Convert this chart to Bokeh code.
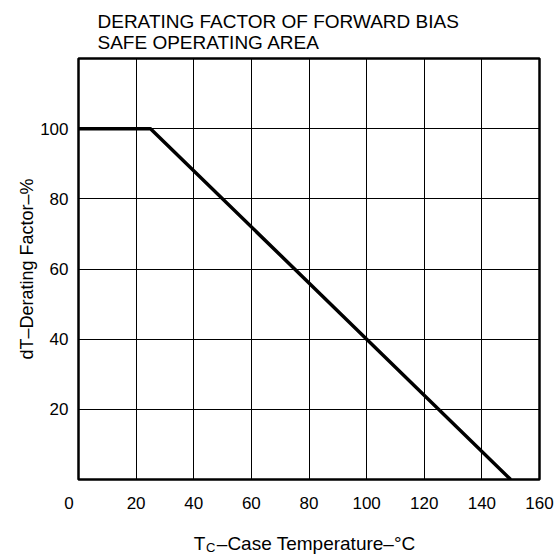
from bokeh.plotting import figure
from bokeh.models import Range1d, FixedTicker, LinearAxis
from bokeh.embed import file_html
from bokeh.resources import INLINE

# ---- data ----
case_temperature = [0, 25, 150]
derating_factor = [100, 100, 0]
x_tick_values = [0, 20, 40, 60, 80, 100, 120, 140, 160]
y_tick_values = [20, 40, 60, 80, 100]
x_grid_values = [0, 20, 40, 60, 80, 100, 120, 140, 160]
y_grid_values = [0, 20, 40, 60, 80, 100, 120]
title_text = "DERATING FACTOR OF FORWARD BIAS\nSAFE OPERATING AREA"
y_label_text = "dT\u2013Derating Factor\u2013%"
x_label_main = "T"
x_label_sub = "C"
x_label_rest = "\u2013Case Temperature\u2013\u00b0C"

FONT = "Liberation Sans"

p = figure(frame_width=461, frame_height=421,
           x_range=Range1d(0, 160), y_range=Range1d(0, 120),
           output_backend="svg", toolbar_location=None,
           min_border_left=78, min_border_right=15,
           min_border_top=58, min_border_bottom=80,
           background_fill_color="white", border_fill_color="white")

# title
p.title.text = title_text
p.title.text_font = FONT
p.title.text_font_size = "19px"
p.title.text_font_style = "normal"
p.title.text_color = "black"
p.title.align = "left"
p.title.offset = 19
p.title.standoff = 12

# frame
p.outline_line_color = "black"
p.outline_line_width = 2.5
p.outline_line_alpha = 1

# grid
p.xgrid.ticker = FixedTicker(ticks=x_grid_values)
p.ygrid.ticker = FixedTicker(ticks=y_grid_values)
for g in (p.xgrid, p.ygrid):
    g.grid_line_color = "black"
    g.grid_line_width = 1
    g.grid_line_alpha = 1

# axes; the "0" sits a little left of the corner in the original,
# so it is padded with no-break spaces on its right
p.xaxis.ticker = FixedTicker(ticks=x_tick_values)
p.xaxis.major_label_overrides = {0: "0\u00a0\u00a0\u00a0\u00a0"}
p.yaxis.ticker = FixedTicker(ticks=y_tick_values)
for ax in (p.xaxis, p.yaxis):
    ax.axis_line_color = None
    ax.major_tick_line_color = None
    ax.minor_tick_line_color = None
    ax.major_tick_out = 0
    ax.major_label_text_font = FONT
    ax.major_label_text_font_size = "17px"
    ax.major_label_text_color = "black"
p.xaxis.major_label_standoff = 14
p.yaxis.major_label_standoff = 10

p.yaxis.axis_label = y_label_text
p.yaxis.axis_label_text_font = FONT
p.yaxis.axis_label_text_font_size = "18px"
p.yaxis.axis_label_text_font_style = "normal"
p.yaxis.axis_label_text_color = "black"
p.yaxis.axis_label_standoff = 0

# x-axis title rows: label-only axes under the tick labels
def label_axis(ticks, labels, size, standoff):
    ax = LinearAxis(ticker=FixedTicker(ticks=ticks),
                    major_label_overrides=dict(zip(ticks, labels)),
                    axis_line_color=None, major_tick_line_color=None,
                    minor_tick_line_color=None, major_tick_out=0,
                    major_label_text_font=FONT, major_label_text_font_size=size,
                    major_label_text_color="black", major_label_standoff=standoff)
    p.add_layout(ax, "below")
    return ax

t_pos = 42.0
rest_pos = 82.5
sub_pos = 45.9
label_axis([t_pos, rest_pos], [x_label_main, x_label_rest], "19px", 17)
label_axis([sub_pos], [x_label_sub], "13px", -17)

# curve
p.line(case_temperature, derating_factor, line_width=3.5, line_color="black")

open("out.html", "w").write(file_html(p, INLINE))
